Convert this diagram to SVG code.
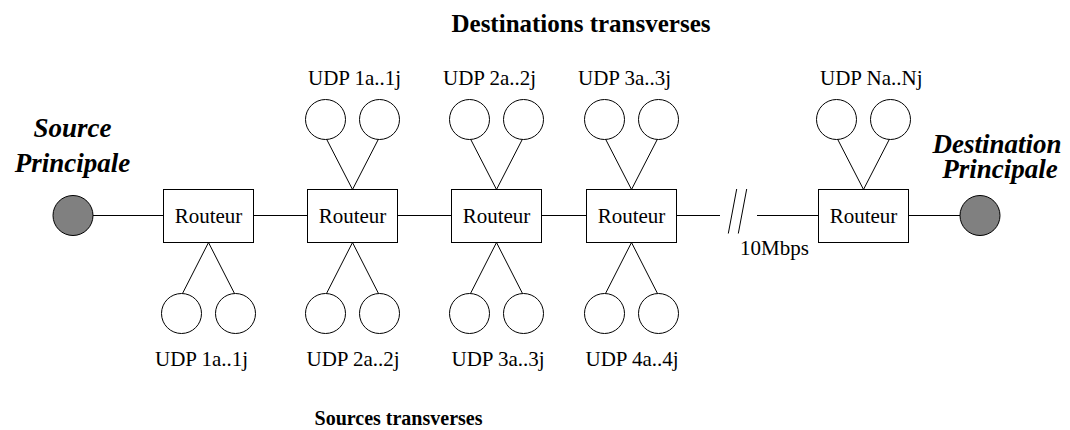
<svg xmlns="http://www.w3.org/2000/svg" width="1070" height="430" viewBox="0 0 1070 430">
  <style>
    .ln { stroke: #000; stroke-width: 1; fill: none; }
    .box { fill: #fff; stroke: #000; stroke-width: 1; }
    .host { fill: #fff; stroke: #000; stroke-width: 1; }
    .end { fill: #808080; stroke: #000; stroke-width: 1; }
    .lbl { font-family: "Liberation Serif", "Times New Roman", serif; font-size: 21px; fill: #000; }
    .mid { text-anchor: middle; }
    .title { font-family: "Liberation Serif", "Times New Roman", serif; font-weight: bold; fill: #000; text-anchor: middle; }
    .main { font-family: "Liberation Serif", "Times New Roman", serif; font-weight: bold; font-style: italic; font-size: 27px; fill: #000; text-anchor: middle; }
  </style>

  <!-- backbone links -->
  <g id="connectors">
    <line class="ln" x1="93" y1="215.5" x2="163.5" y2="215.5"/>
    <line class="ln" x1="253.5" y1="215.5" x2="307.5" y2="215.5"/>
    <line class="ln" x1="397.5" y1="215.5" x2="451.5" y2="215.5"/>
    <line class="ln" x1="541.5" y1="215.5" x2="586.5" y2="215.5"/>
    <line class="ln" x1="676.5" y1="215.5" x2="720" y2="215.5"/>
    <line class="ln" x1="757" y1="215.5" x2="818.5" y2="215.5"/>
    <line class="ln" x1="908.5" y1="215.5" x2="960" y2="215.5"/>
    <!-- break mark on the long link -->
    <line class="ln" x1="736.7" y1="189" x2="728.3" y2="233.5"/>
    <line class="ln" x1="746.7" y1="189" x2="738.3" y2="233.5"/>

    <!-- router 1 sources -->
    <line class="ln" x1="208.5" y1="242.5" x2="182.5" y2="293.5"/>
    <line class="ln" x1="208.5" y1="242.5" x2="234.5" y2="293.5"/>
    <!-- router 2 -->
    <line class="ln" x1="352.5" y1="189.5" x2="326.5" y2="139"/>
    <line class="ln" x1="352.5" y1="189.5" x2="378.5" y2="139"/>
    <line class="ln" x1="352.5" y1="242.5" x2="326.5" y2="293.5"/>
    <line class="ln" x1="352.5" y1="242.5" x2="378.5" y2="293.5"/>
    <!-- router 3 -->
    <line class="ln" x1="496.5" y1="189.5" x2="470.5" y2="139"/>
    <line class="ln" x1="496.5" y1="189.5" x2="522.5" y2="139"/>
    <line class="ln" x1="496.5" y1="242.5" x2="470.5" y2="293.5"/>
    <line class="ln" x1="496.5" y1="242.5" x2="522.5" y2="293.5"/>
    <!-- router 4 -->
    <line class="ln" x1="631.5" y1="189.5" x2="605.5" y2="139"/>
    <line class="ln" x1="631.5" y1="189.5" x2="657.5" y2="139"/>
    <line class="ln" x1="631.5" y1="242.5" x2="605.5" y2="293.5"/>
    <line class="ln" x1="631.5" y1="242.5" x2="657.5" y2="293.5"/>
    <!-- router 5 -->
    <line class="ln" x1="863.5" y1="189.5" x2="837.5" y2="139"/>
    <line class="ln" x1="863.5" y1="189.5" x2="889.5" y2="139"/>
  </g>

  <!-- main source / destination -->
  <g id="source">
    <circle class="end" cx="73" cy="215.5" r="20"/>
    <text class="main" x="72.5" y="137" font-size="28">Source</text>
    <text class="main" x="72.5" y="172" font-size="28">Principale</text>
  </g>
  <g id="destination">
    <circle class="end" cx="980" cy="215.5" r="20"/>
    <text class="main" x="997" y="153">Destination</text>
    <text class="main" x="1000" y="178">Principale</text>
  </g>

  <!-- routers -->
  <g id="router1">
    <rect class="box" x="163.5" y="189.5" width="90" height="53"/>
    <text class="lbl mid" x="208.5" y="223">Routeur</text>
  </g>
  <g id="router2">
    <rect class="box" x="307.5" y="189.5" width="90" height="53"/>
    <text class="lbl mid" x="352.5" y="223">Routeur</text>
  </g>
  <g id="router3">
    <rect class="box" x="451.5" y="189.5" width="90" height="53"/>
    <text class="lbl mid" x="496.5" y="223">Routeur</text>
  </g>
  <g id="router4">
    <rect class="box" x="586.5" y="189.5" width="90" height="53"/>
    <text class="lbl mid" x="631.5" y="223">Routeur</text>
  </g>
  <g id="router5">
    <rect class="box" x="818.5" y="189.5" width="90" height="53"/>
    <text class="lbl mid" x="863.5" y="223">Routeur</text>
  </g>

  <!-- cross-traffic destinations (top) -->
  <g id="dst1">
    <circle class="host" cx="325.5" cy="119.5" r="20"/>
    <circle class="host" cx="379.5" cy="119.5" r="20"/>
    <text class="lbl" x="308" y="85">UDP 1a..1j</text>
  </g>
  <g id="dst2">
    <circle class="host" cx="469.5" cy="119.5" r="20"/>
    <circle class="host" cx="523.5" cy="119.5" r="20"/>
    <text class="lbl" x="443" y="85">UDP 2a..2j</text>
  </g>
  <g id="dst3">
    <circle class="host" cx="604.5" cy="119.5" r="20"/>
    <circle class="host" cx="658.5" cy="119.5" r="20"/>
    <text class="lbl" x="578" y="85">UDP 3a..3j</text>
  </g>
  <g id="dstN">
    <circle class="host" cx="836.5" cy="119.5" r="20"/>
    <circle class="host" cx="890.5" cy="119.5" r="20"/>
    <text class="lbl" x="820" y="85">UDP Na..Nj</text>
  </g>

  <!-- cross-traffic sources (bottom) -->
  <g id="src1">
    <circle class="host" cx="181.5" cy="313.5" r="20"/>
    <circle class="host" cx="235.5" cy="313.5" r="20"/>
    <text class="lbl" x="155" y="366">UDP 1a..1j</text>
  </g>
  <g id="src2">
    <circle class="host" cx="325.5" cy="313.5" r="20"/>
    <circle class="host" cx="379.5" cy="313.5" r="20"/>
    <text class="lbl" x="306.5" y="366">UDP 2a..2j</text>
  </g>
  <g id="src3">
    <circle class="host" cx="469.5" cy="313.5" r="20"/>
    <circle class="host" cx="523.5" cy="313.5" r="20"/>
    <text class="lbl" x="451.5" y="366">UDP 3a..3j</text>
  </g>
  <g id="src4">
    <circle class="host" cx="604.5" cy="313.5" r="20"/>
    <circle class="host" cx="658.5" cy="313.5" r="20"/>
    <text class="lbl" x="585.5" y="366">UDP 4a..4j</text>
  </g>

  <!-- link rate -->
  <text class="lbl" x="740" y="255">10Mbps</text>

  <!-- group titles -->
  <text class="title" x="581" y="32" font-size="25">Destinations transverses</text>
  <text class="title" x="398.5" y="425" font-size="20">Sources transverses</text>
</svg>
